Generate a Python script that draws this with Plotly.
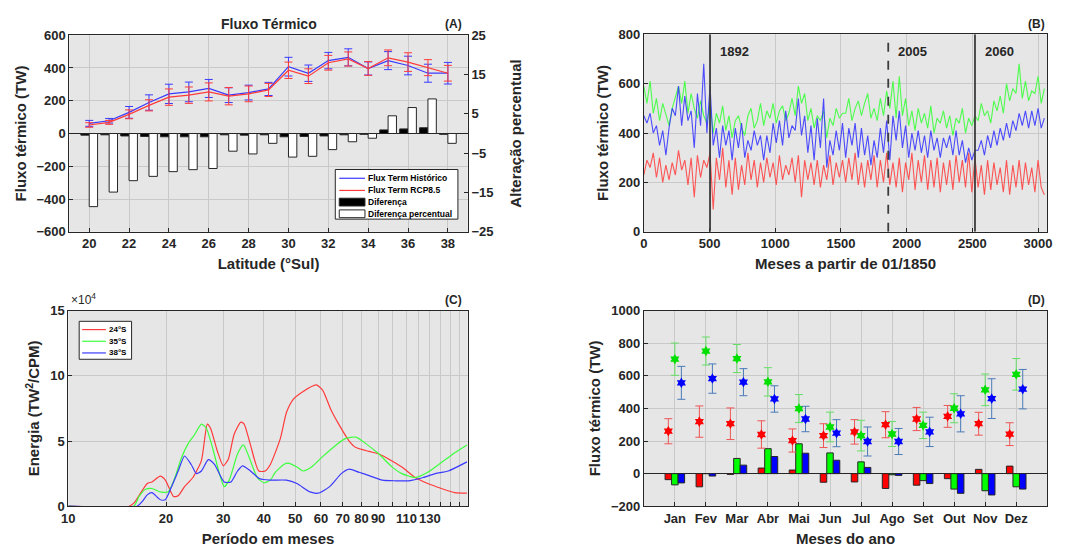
import plotly.graph_objects as go
import numpy as np

# ---------------- DATA ----------------
# Panel A
LAT = [20, 21, 22, 23, 24, 25, 26, 27, 28, 29, 30, 31, 32, 33, 34, 35, 36, 37, 38]
HIST = [62, 78, 129, 189, 242, 254, 275, 234, 250, 272, 408, 368, 445, 465, 397, 445, 415, 368, 368]
HIST_ERR = [18, 14, 36, 47, 59, 60, 55, 45, 45, 40, 57, 50, 50, 52, 40, 55, 57, 55, 66]
RCP = [52, 68, 117, 172, 222, 234, 254, 228, 242, 266, 386, 350, 432, 455, 397, 462, 436, 402, 368]
RCP_ERR = [14, 12, 27, 34, 50, 50, 55, 53, 48, 40, 50, 45, 45, 43, 42, 48, 57, 49, 48]
DIFF = [-10, -8, -15, -18, -20, -20, -20, -8, -10, -8, -20, -18, -15, -8, -5, 22, 28, 35, -5]
DIFF_PCT = [-18.6, -14.9, -12.0, -10.9, -9.7, -9.2, -8.9, -4.5, -5.2, -2.5, -6.0, -5.8, -4.1, -2.1, -1.2, 4.5, 6.6, 8.8, -2.5]
A_LEGEND = ["Flux Term Histórico", "Flux Term RCP8.5", "Diferença", "Diferença percentual"]

# Panel B (months since 01/1850, sampled every 24 months)
B_MONTHS = list(range(0, 3049, 24))
B_GREEN = [590, 520, 610, 480, 540, 450, 520, 470,
           430, 500, 540, 590, 520, 610, 480, 560,
           500, 460, 530, 470, 440, 520, 400, 480,
           440, 510, 410, 470, 380, 450, 470, 420,
           390, 470, 500, 420, 450, 520, 430, 490,
           460, 520, 440, 490, 510, 450, 480, 540,
           470, 590, 520, 560, 450, 500, 420, 470,
           450, 490, 380, 460, 430, 500, 460, 480,
           480, 540, 450, 500, 530, 470, 520, 560,
           460, 500, 450, 540, 470, 570, 500, 610,
           460, 630, 470, 540, 430, 490, 410, 500,
           440, 480, 420, 510, 400, 460, 440, 490,
           420, 470, 390, 460, 440, 500, 400, 460,
           430, 470, 450, 520, 470, 490, 440, 530,
           490, 550, 480, 600, 530, 580, 560, 680,
           540, 610, 530, 570, 560, 630, 520, 580]
B_BLUE = [470, 440, 480, 400, 430, 350, 410, 310,
          420, 500, 470, 590, 430, 550, 450, 490,
          340, 560, 430, 680, 400, 590, 350, 420,
          300, 430, 350, 410, 290, 420, 340, 440,
          300, 370, 330, 410, 350, 390, 290, 390,
          320, 440, 360, 450, 350, 490, 380, 430,
          410, 540, 390, 470, 320, 430, 290, 460,
          340, 540, 260, 370, 310, 410, 330, 440,
          300, 420, 350, 440, 300, 420, 310, 390,
          270, 370, 300, 420, 320, 450, 290, 470,
          370, 490, 340, 430, 300, 400, 330, 410,
          320, 390, 300, 410, 330, 380, 300, 380,
          340, 390, 310, 410, 310, 370, 280, 340,
          290, 330, 330, 370, 310, 390, 340, 410,
          350, 420, 370, 440, 380, 450, 410, 480,
          430, 490, 420, 490, 430, 500, 420, 460]
B_RED = [230, 290, 260, 320, 220, 300, 200, 270,
         210, 280, 230, 330, 250, 290, 190, 300,
         140, 310, 220, 290, 260, 320, 90, 300,
         210, 340, 180, 290, 150, 300, 170, 270,
         190, 320, 210, 290, 180, 280, 200, 300,
         220, 280, 190, 310, 210, 270, 230, 300,
         200, 310, 140, 290, 210, 280, 190, 290,
         180, 270, 210, 310, 190, 280, 220, 290,
         200, 300, 210, 320, 190, 280, 180, 290,
         210, 310, 180, 290, 200, 320, 190, 280,
         180, 300, 160, 280, 210, 320, 170, 290,
         200, 310, 170, 290, 180, 300, 160, 280,
         190, 290, 170, 310, 200, 290, 180, 320,
         160, 300, 180, 270, 150, 290, 170, 280,
         190, 260, 160, 290, 150, 270, 180, 290,
         170, 280, 190, 260, 160, 290, 180, 150]
B_EVENT_MONTHS = [504, 1860, 2520]
B_EVENT_LABELS = ["1892", "2005", "2060"]
B_EVENT_DASH = ["solid", "dash", "solid"]

# Panel C (energy in units of 1e4 TW^2/CPM)
C_RED_P = [10, 15.4, 16.0, 17.5, 18.1, 19.2, 19.9, 21.1, 21.8, 22.8, 24.2, 25.7, 26.8, 27.4, 28.8, 30.0, 31.1, 32.4, 34.0, 34.8, 36.4, 38.6, 40.4, 41.9, 45.0, 47.0, 49.3, 52.9, 58.0, 60.7, 64.4, 68.4, 73.3, 76.9, 84.4, 90.5, 97.2, 106.5, 117, 128, 141, 155, 169]
C_RED_E = [0, 0, 0.3, 1.74, 1.86, 2.3, 2.0, 0.74, 0.8, 1.5, 2.2, 3.5, 6.3, 6.0, 4.2, 3.1, 3.6, 5.5, 6.45, 6.3, 4.7, 2.7, 2.7, 3.2, 5.2, 7.2, 8.2, 8.8, 9.3, 8.9, 7.4, 6.2, 5.0, 4.5, 4.2, 4.0, 3.6, 3.0, 2.2, 1.74, 1.36, 1.04, 1.0]
C_GREEN_P = [10, 15.9, 16.5, 17.3, 18.1, 19.2, 20.3, 21.3, 22.3, 23.4, 24.5, 25.7, 26.6, 27.8, 29.2, 30.2, 31.3, 33.2, 34.6, 36.0, 38.2, 40.0, 41.9, 43.4, 46.1, 47.6, 50.6, 52.9, 56.1, 60.7, 66.8, 71.6, 76.9, 82.5, 90.5, 99.5, 106.5, 117, 128, 141, 155, 169]
C_GREEN_E = [0, 0, 0.74, 1.3, 1.36, 1.1, 1.1, 2.2, 3.7, 4.8, 5.5, 6.3, 6.0, 4.5, 2.5, 1.5, 2.0, 4.0, 4.7, 3.8, 2.2, 1.8, 2.0, 2.6, 3.2, 3.3, 3.0, 2.7, 3.0, 3.8, 4.7, 5.2, 5.3, 4.8, 4.0, 3.0, 2.5, 2.2, 2.6, 3.35, 4.1, 4.7]
C_BLUE_P = [10, 16.3, 16.9, 17.5, 18.1, 19.2, 19.9, 20.8, 21.8, 22.8, 23.9, 24.8, 25.7, 27.0, 28.2, 30.2, 31.7, 33.2, 34.4, 36.4, 38.9, 41.9, 47.0, 50.6, 55.5, 58.8, 63.8, 69.3, 73.3, 78.6, 84.4, 92.7, 101.9, 112, 124, 135, 148, 169]
C_BLUE_E = [0, 0, 0.37, 0.87, 1.04, 0.5, 0.5, 1.5, 2.7, 3.85, 3.2, 2.5, 2.7, 3.57, 3.2, 1.86, 1.86, 2.7, 3.1, 2.7, 2.1, 2.0, 2.0, 1.74, 1.1, 1.0, 1.5, 2.5, 2.85, 2.6, 2.35, 2.0, 1.95, 1.95, 2.2, 2.5, 2.7, 3.4]
C_LEGEND = ["24°S", "35°S", "38°S"]
C_TICKS = [10, 20, 30, 40, 50, 60, 70, 80, 90, 100, 110, 120, 130, 140, 150, 160]
C_TICKTEXT = ["10", "20", "30", "40", "50", "60", "70", "80", "90", "", "110", "", "130", "", "", ""]

# Panel D
MONTH_IDX = list(range(1, 13))
MONTH_LABELS = ["Jan", "Fev", "Mar", "Abr", "Mai", "Jun", "Jul", "Ago", "Set", "Out", "Nov", "Dez"]
D_RED_BAR = [-37, -81, -5, 34, 22, -53, -51, -91, -71, -31, 26, 46]
D_GREEN_BAR = [-69, 0, 93, 153, 183, 127, 72, -7, -43, -95, -105, -81]
D_BLUE_BAR = [-57, -15, 52, 105, 125, 82, 38, -11, -61, -121, -131, -95]
D_RED_MEAN = [260, 319, 306, 240, 203, 233, 256, 300, 335, 351, 306, 242]
D_RED_ERR = [77, 96, 97, 84, 71, 73, 75, 80, 71, 67, 70, 70]
D_GREEN_MEAN = [702, 752, 706, 563, 399, 286, 233, 243, 296, 401, 514, 609]
D_GREEN_ERR = [99, 86, 86, 87, 86, 91, 94, 77, 81, 89, 97, 97]
D_BLUE_MEAN = [557, 583, 561, 458, 335, 248, 197, 197, 256, 367, 460, 518]
D_BLUE_ERR = [101, 90, 83, 81, 78, 83, 89, 80, 90, 111, 122, 121]

# ---------------- STYLE ----------------
W, H = 1075, 558
FONT = "Liberation Sans, Arial, sans-serif"
DARK = "#262626"
BG = "#e6e6e6"
GRID = "#c9c9c9"
BLUE_L = "#3a3aff"
RED_L = "#ff3a3a"
GREEN_L = "#3dff3d"


def dx(a, b):
    return [a / W, b / W]


def dy(top, bottom):
    return [1 - bottom / H, 1 - top / H]


def px(x):
    return x / W


def py(y):
    return 1 - y / H


fig = go.Figure()

# ---- Panel A ----
fig.add_trace(go.Bar(x=LAT, y=DIFF, xaxis="x", yaxis="y", width=0.42, offset=-0.42,
                     marker=dict(color="black", line=dict(color=DARK, width=1)), showlegend=False))
fig.add_trace(go.Bar(x=LAT, y=DIFF_PCT, xaxis="x", yaxis="y2", width=0.42, offset=0.0,
                     marker=dict(color="white", line=dict(color=DARK, width=1)), showlegend=False))
fig.add_trace(go.Scatter(x=LAT, y=HIST, xaxis="x", yaxis="y", mode="lines",
                         line=dict(color=BLUE_L, width=1.2),
                         error_y=dict(type="data", array=HIST_ERR, color=BLUE_L, width=4, thickness=1),
                         showlegend=False))
fig.add_trace(go.Scatter(x=LAT, y=RCP, xaxis="x", yaxis="y", mode="lines",
                         line=dict(color=RED_L, width=1.2),
                         error_y=dict(type="data", array=RCP_ERR, color=RED_L, width=4, thickness=1),
                         showlegend=False))

# ---- Panel B ----
for ys, col in [(B_GREEN, GREEN_L), (B_BLUE, BLUE_L), (B_RED, "#ff4545")]:
    fig.add_trace(go.Scatter(x=B_MONTHS, y=ys, xaxis="x2", yaxis="y3", mode="lines",
                             line=dict(color=col, width=1.1), showlegend=False, opacity=0.9))

# ---- Panel C ----
for px_, e_, col in [(C_RED_P, C_RED_E, RED_L), (C_GREEN_P, C_GREEN_E, GREEN_L), (C_BLUE_P, C_BLUE_E, BLUE_L)]:
    fig.add_trace(go.Scatter(x=px_, y=e_, xaxis="x3", yaxis="y4", mode="lines",
                             line=dict(color=col, width=1.2, shape="spline", smoothing=0.6),
                             showlegend=False))

# ---- Panel D ----
for bars, col in [(D_RED_BAR, "#ff0000"), (D_GREEN_BAR, "#00ff00"), (D_BLUE_BAR, "#0000ff")]:
    fig.add_trace(go.Bar(x=MONTH_IDX, y=bars, xaxis="x4", yaxis="y5",
                         marker=dict(color=col, line=dict(color=DARK, width=1)), showlegend=False))
GROUP_OFFSETS = [-0.21, 0.0, 0.21]
for (mean, err, mcol, ecol), off in zip([(D_RED_MEAN, D_RED_ERR, "#ff0000", "#ee5555"),
                                          (D_GREEN_MEAN, D_GREEN_ERR, "#00e000", "#66dd66"),
                                          (D_BLUE_MEAN, D_BLUE_ERR, "#0000ff", "#4a7ab8")], GROUP_OFFSETS):
    fig.add_trace(go.Scatter(x=np.array(MONTH_IDX) + off, y=mean, xaxis="x4", yaxis="y5", mode="markers",
                             marker=dict(symbol="hexagram", size=8, color=mcol, line=dict(width=0)),
                             error_y=dict(type="data", array=err, color=ecol, width=4, thickness=1),
                             showlegend=False))

tickfont = dict(family=FONT, size=13, color=DARK, weight="bold")
titlefont = dict(family=FONT, size=15, color=DARK)


def ax(**kw):
    base = dict(showgrid=True, gridcolor=GRID, gridwidth=1, showline=True, linecolor=DARK, linewidth=1,
                ticks="inside", ticklen=4, tickcolor=DARK, tickfont=tickfont, zeroline=False,
                title_font=titlefont)
    base.update(kw)
    return base


fig.update_layout(
    width=W, height=H, margin=dict(l=0, r=0, t=0, b=0), autosize=False,
    paper_bgcolor="white", plot_bgcolor=BG, showlegend=False,
    font=dict(family=FONT, color=DARK),
    barmode="group", bargap=0.37, bargroupgap=0,
    xaxis=ax(domain=dx(63, 466), anchor="y", range=[19, 39], tickvals=list(range(20, 39, 2)),
             mirror=True, title=dict(text="<b>Latitude (°Sul)</b>", standoff=8)),
    yaxis=ax(domain=dy(29, 231), anchor="x", range=[-600, 600], dtick=200,
             zeroline=True, zerolinecolor=DARK, zerolinewidth=1,
             title=dict(text="<b>Fluxo térmico (TW)</b>", standoff=6)),
    yaxis2=ax(overlaying="y", anchor="x", side="right", range=[-25, 25], tickvals=[-25, -15, -5, 5, 15, 25],
              showgrid=False, title=dict(text="<b>Alteração percentual</b>", standoff=18)),
    xaxis2=ax(domain=dx(644, 1052), anchor="y3", range=[0, 3070], dtick=500, mirror=True,
              title=dict(text="<b>Meses a partir de 01/1850</b>", standoff=8)),
    yaxis3=ax(domain=dy(28, 231), anchor="x2", range=[0, 800], dtick=200, mirror=True,
              title=dict(text="<b>Fluxo térmico (TW)</b>", standoff=6)),
    xaxis3=ax(domain=dx(62, 466), anchor="y4", type="log", range=[1, np.log10(170)],
              tickvals=C_TICKS, ticktext=C_TICKTEXT, mirror=True,
              title=dict(text="<b>Período em meses</b>", standoff=8)),
    yaxis4=ax(domain=dy(312, 513), anchor="x3", range=[0, 15], dtick=5, mirror=True,
              title=dict(text="<b>Energia (TW<sup>2</sup>/CPM)</b>", standoff=6)),
    xaxis4=ax(domain=dx(644, 1052), anchor="y5", range=[0, 13], tickvals=MONTH_IDX, ticktext=MONTH_LABELS,
              mirror=True, title=dict(text="<b>Meses do ano</b>", standoff=8)),
    yaxis5=ax(domain=dy(312, 513), anchor="x4", range=[-200, 1000], dtick=200, mirror=True,
              zeroline=True, zerolinecolor=DARK, zerolinewidth=1,
              title=dict(text="<b>Fluxo térmico (TW)</b>", standoff=6)),
)

# event lines in panel B
for m, lab, dash in zip(B_EVENT_MONTHS, B_EVENT_LABELS, B_EVENT_DASH):
    fig.add_shape(type="line", xref="x2", yref="y3", x0=m, x1=m, y0=0, y1=800,
                  line=dict(color="#3c3c3c", width=1.8, dash=dash))
    fig.add_annotation(xref="x2", yref="y3", x=m, y=730, text=f"<b>{lab}</b>", showarrow=False,
                       xanchor="left", xshift=8, font=dict(family=FONT, size=13, color=DARK))


# ---- manual legends (paper coordinates) ----
def add_rect(x0, y0, x1, y1, fill, lw=1):
    fig.add_shape(type="rect", xref="paper", yref="paper", x0=px(x0), x1=px(x1), y0=py(y1), y1=py(y0),
                  line=dict(color=DARK, width=lw), fillcolor=fill, layer="above")


def add_hline(x0, x1, y, col, lw=1.2):
    fig.add_shape(type="line", xref="paper", yref="paper", x0=px(x0), x1=px(x1), y0=py(y), y1=py(y),
                  line=dict(color=col, width=lw), layer="above")


def add_text(x, y, txt, size):
    fig.add_annotation(xref="paper", yref="paper", x=px(x), y=py(y), text=f"<b>{txt}</b>", showarrow=False,
                       xanchor="left", yanchor="middle", font=dict(family=FONT, size=size, color="black"))


# Legend A
add_rect(332, 167, 456, 218, "white")
LEG_A_Y = [176, 188.5, 200.5, 212.5]
add_hline(336, 362, LEG_A_Y[0], BLUE_L)
add_hline(336, 362, LEG_A_Y[1], RED_L)
add_rect(336, LEG_A_Y[2] - 4, 362, LEG_A_Y[2] + 4, "black")
add_rect(336, LEG_A_Y[3] - 4, 362, LEG_A_Y[3] + 4, "white")
for yy, t in zip(LEG_A_Y, A_LEGEND):
    add_text(363, yy, t, 8.5)

# Legend C
add_rect(73, 323, 126, 362, "white")
LEG_C_Y = [331.5, 343.5, 355.5]
for yy, t, col in zip(LEG_C_Y, C_LEGEND, [RED_L, GREEN_L, BLUE_L]):
    add_hline(76, 100, yy, col)
    add_text(101, yy, t, 8)

annots = [
    dict(x=(63 + 466) / 2 / W, y=py(17), text="<b>Fluxo Térmico</b>", size=14, xanchor="center"),
    dict(x=px(462), y=py(17), text="<b>(A)</b>", size=12, xanchor="right"),
    dict(x=px(1052), y=py(17), text="<b>(B)</b>", size=12, xanchor="right"),
    dict(x=px(462), y=py(301), text="<b>(C)</b>", size=12, xanchor="right"),
    dict(x=px(1052), y=py(301), text="<b>(D)</b>", size=12, xanchor="right"),
    dict(x=px(63), y=py(300), text="×10<sup>4</sup>", size=12, xanchor="left"),
]
for a in annots:
    fig.add_annotation(xref="paper", yref="paper", x=a["x"], y=a["y"], text=a["text"], showarrow=False,
                       xanchor=a["xanchor"], yanchor="middle",
                       font=dict(family=FONT, size=a["size"], color=DARK))

fig.write_html("out.html")
